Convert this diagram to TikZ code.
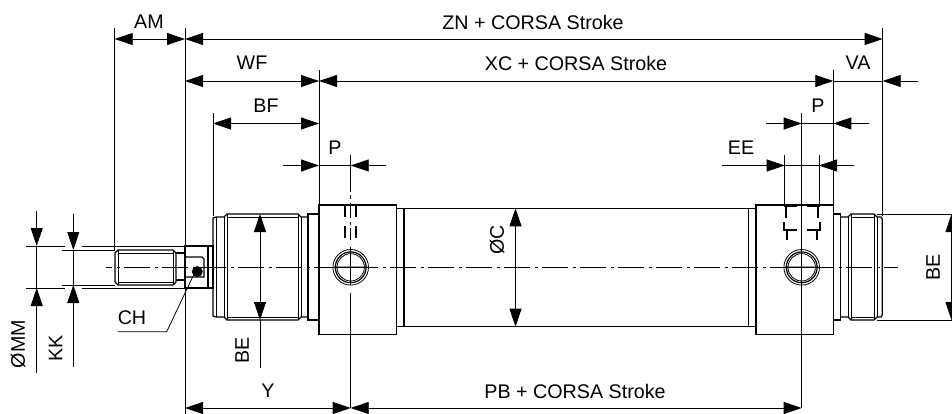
\documentclass[tikz,border=0pt]{standalone}
\usepackage{fontspec}
\setmainfont{Liberation Sans}
\usetikzlibrary{arrows.meta}

\tikzset{
	dimline/.style={line width=0.8pt, {Triangle[length=18pt,width=12pt]}-{Triangle[length=18pt,width=12pt]}},
	extline/.style={line width=0.8pt},
	outline/.style={line width=1.2pt},
	thinline/.style={line width=0.8pt},
	hidden/.style={line width=1.8pt},
	centerline/.style={line width=0.8pt, dash pattern=on 26pt off 4.5pt on 3pt off 4.5pt, dash phase=19.7pt},
	dimtext/.style={font=\fontsize{19.7}{21}\selectfont, inner sep=0pt},
}

\begin{document}
\begin{tikzpicture}[y=-1pt,x=1pt]
	\newcommand\Port{+(0,0) circle (17.8) +(0,0) circle (13.7)}
	\newcommand\PortMid{+(0,0) circle (15.4) +(-17,0) -- +(17,0)}
	\newcommand\Head{-{Triangle[length=18pt,width=12pt]}}
	\useasboundingbox (0,0) rectangle (952,414);

	% rod
	\draw [outline] (115,253) -- (115,282) -- (118,285) -- (173,285) -- (176,282) -- (176,253) -- (173,250) -- (118,250) -- cycle;
	\draw [thinline] (118,250) -- (118,285);
	\draw [thinline] (173,250) -- (173,285);
	\draw [thinline] (118,253) -- (173,253);
	\draw [thinline] (118,282) -- (173,282);
	\draw [outline] (176,253) -- (185,253);
	\draw [outline] (176,280) -- (185,280);
	\draw [outline] (185,246) rectangle (208,288);
	\draw [outline] (185,257) -- (202,257) -- (204,259) -- (204,277) -- (185,277);
	\draw [outline] (208,246) rectangle (213,288);
	\fill (197.3,271.6) circle (5.5);

	% rod side cap
	\draw [outline] (213,288) -- (213,316) -- (216,317) -- (224,317) -- (227,320) -- (298,320) -- (301,317) -- (308,317);
	\draw [outline] (213,246) -- (213,218) -- (216,217) -- (224,217) -- (227,214) -- (298,214) -- (301,217) -- (308,217);
	\draw [thinline] (216,217) -- (216,317);
	\draw [thinline] (224,217) -- (224,317);
	\draw [thinline] (227,214) -- (227,320);
	\draw [thinline] (298,214) -- (298,320);
	\draw [thinline] (227,217) -- (298,217);
	\draw [thinline] (227,317) -- (298,317);
	\draw [thinline] (301,217) -- (301,317);
	\draw [outline] (308,214) rectangle (319,320);

	% blocks and tube
	\draw [outline] (319,205) rectangle (396.7,334.3);
	\draw [outline] (396.7,208.3) rectangle (404,326.7);
	\draw [outline] (404,208.3) -- (748.3,208.3);
	\draw [outline] (404,326.7) -- (748.3,326.7);
	\draw [outline] (748.3,208.3) rectangle (756,326.7);
	\draw [outline] (756,205) rectangle (833.3,334.3);

	% far side cap
	\draw [outline] (833.3,214) rectangle (840.7,320);
	\draw [outline] (840.7,217) -- (848,217) -- (851,214) -- (874,214) -- (877,217) -- (881,217) -- (882.3,219) -- (882.3,315) -- (881,317) -- (877,317) -- (874,320) -- (851,320) -- (848,317) -- (840.7,317);
	\draw [thinline] (848,217) -- (848,317);
	\draw [thinline] (851,214) -- (851,320);
	\draw [thinline] (874,214) -- (874,320);
	\draw [thinline] (877.3,217) -- (877.3,317);
	\draw [thinline] (851,217) -- (874,217);
	\draw [thinline] (851,317) -- (874,317);

	% ports
	\draw [thinline] (350.7,267.3) \Port;
	\draw [outline] (350.7,267.3) \PortMid;
	\draw [thinline] (801.7,267.3) \Port;
	\draw [outline] (801.7,267.3) \PortMid;

	% hidden lines
	\draw [hidden] (345,204) -- (345,217);
	\draw [hidden] (356,204) -- (356,217);
	\draw [hidden] (345,226) -- (345,238);
	\draw [hidden] (356,226) -- (356,238);
	\draw [hidden] (784,206.5) -- (797,206.5);
	\draw [hidden] (806.5,206.5) -- (820,206.5);
	\draw [hidden] (785.7,205) -- (785.7,218);
	\draw [hidden] (817.7,205) -- (817.7,218);
	\draw [hidden] (784,222) -- (784,230) -- (797,230);
	\draw [hidden] (820,222) -- (820,230) -- (806.5,230);
	\draw [hidden] (786.7,230) -- (786.7,240);
	\draw [hidden] (816.7,230) -- (816.7,240);

	% center lines
	\draw [centerline] (106,267.3) -- (898,267.3);
	\foreach \from/\to in {155/192, 195/199, 203/218, 222/225, 228/240, 247/285, 293/408}
		\draw [thinline] (350.7,\from) -- (350.7,\to);
	\draw [thinline] (801.7,113) -- (801.7,408);

	% extension lines
	\draw [extline] (114.7,28) -- (114.7,250);
	\draw [extline] (185,28) -- (185,414);
	\draw [extline] (213,113) -- (213,216);
	\draw [extline] (319,70) -- (319,205);
	\draw [extline] (833.3,70) -- (833.3,205);
	\draw [extline] (882.7,28) -- (882.7,216);
	\draw [extline] (784.7,155) -- (784.7,205);
	\draw [extline] (819,155) -- (819,205);
	\draw [extline] (877,214) -- (952,214);
	\draw [extline] (877,320) -- (952,320);
	\draw [extline] (26,246) -- (65,246);
	\draw [extline] (81.7,246) -- (185,246);
	\draw [extline] (26,288) -- (65,288);
	\draw [extline] (81.7,288) -- (185,288);
	\draw [extline] (62,250) -- (115,250);
	\draw [extline] (62,285) -- (115,285);

	% dimensions
	\draw [dimline] (114.7,39) -- (185,39);
	\draw [dimline] (185,39) -- (882.7,39);
	\draw [dimline] (185,81) -- (319,81);
	\draw [dimline] (319,81) -- (833.3,81);
	\draw [extline] (833.3,81) -- (882.7,81);
	\draw [extline, \Head] (918,81) -- (882.7,81);
	\draw [dimline] (213,123.5) -- (319,123.5);
	\draw [extline, \Head] (766,123.5) -- (801.7,123.5);
	\draw [extline, \Head] (869,123.5) -- (833.3,123.5);
	\draw [extline] (801.7,123.5) -- (833.3,123.5);
	\draw [extline, \Head] (283,165.5) -- (319,165.5);
	\draw [extline, \Head] (386,165.5) -- (350.7,165.5);
	\draw [extline] (319,165.5) -- (350.7,165.5);
	\draw [extline, \Head] (722,165.5) -- (784.7,165.5);
	\draw [extline, \Head] (854,165.5) -- (819,165.5);
	\draw [extline] (784.7,165.5) -- (819,165.5);
	\draw [dimline] (185,408) -- (350.7,408);
	\draw [dimline] (350.7,408) -- (801.7,408);
	\draw [dimline] (260,214) -- (260,320);
	\draw [extline] (260,320) -- (260,368);
	\draw [dimline] (515.5,208.3) -- (515.5,326.7);
	\draw [dimline] (951.5,214) -- (951.5,320);
	\draw [extline, \Head] (36.7,211) -- (36.7,246);
	\draw [extline, \Head] (36.7,373) -- (36.7,288);
	\draw [extline] (36.7,246) -- (36.7,288);
	\draw [extline, \Head] (73.3,214) -- (73.3,250);
	\draw [extline, \Head] (73.3,367) -- (73.3,285);
	\draw [extline] (73.3,250) -- (73.3,285);

	% leader
	\draw [thinline] (118,331.7) -- (166.7,331.7) -- (195,272);

	% labels
	\node [dimtext] (am) at (149,22) {AM};
	\node [dimtext] (zn) at (533,22) {ZN + CORSA Stroke};
	\node [dimtext] (wf) at (252,63) {WF};
	\node [dimtext] (xc) at (576,63) {XC + CORSA Stroke};
	\node [dimtext] (va) at (858,63) {VA};
	\node [dimtext] (bf) at (266,106) {BF};
	\node [dimtext] (pright) at (818,106) {P};
	\node [dimtext] (pleft) at (335,148) {P};
	\node [dimtext] (ee) at (741,148) {EE};
	\node [dimtext] (ch) at (132,318) {CH};
	\node [dimtext] (y) at (268,391) {Y};
	\node [dimtext] (pb) at (575,391) {PB + CORSA Stroke};
	\node [dimtext, rotate=90] (mm) at (18,344) {ØMM};
	\node [dimtext, rotate=90] (kk) at (55.7,348) {KK};
	\node [dimtext, rotate=90] (beleft) at (242,350) {BE};
	\node [dimtext, rotate=90] (c) at (497,240) {ØC};
	\node [dimtext, rotate=90] (beright) at (933,267) {BE};
\end{tikzpicture}
\end{document}
